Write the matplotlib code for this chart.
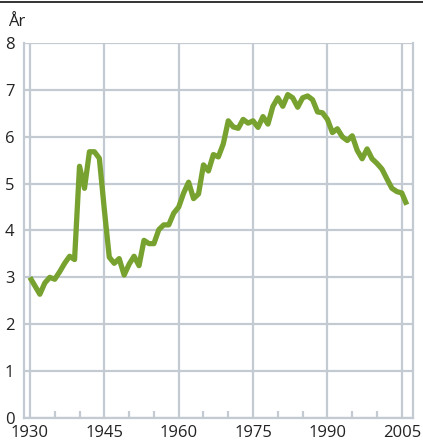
import matplotlib
matplotlib.use('Agg')
import matplotlib.pyplot as plt
import numpy as np

years = list(range(1930, 2007))
values = [3.00, 2.82, 2.64, 2.88, 3.00, 2.96, 3.12, 3.30, 3.45, 3.38,
          5.37, 4.90, 5.68, 5.68, 5.54, 4.45, 3.43, 3.30, 3.40, 3.05,
          3.28, 3.45, 3.25, 3.79, 3.72, 3.72, 4.02, 4.12, 4.12, 4.37,
          4.50, 4.80, 5.03, 4.68, 4.78, 5.40, 5.27, 5.62, 5.57, 5.85,
          6.34, 6.21, 6.18, 6.37, 6.29, 6.34, 6.20, 6.43, 6.27, 6.65,
          6.83, 6.65, 6.90, 6.83, 6.63, 6.83, 6.87, 6.79, 6.53, 6.51,
          6.37, 6.09, 6.17, 6.00, 5.92, 6.02, 5.71, 5.53, 5.74, 5.53,
          5.43, 5.31, 5.10, 4.90, 4.83, 4.80, 4.55]
x_ticks = [1930, 1945, 1960, 1975, 1990, 2005]
x_minor = [1935, 1940, 1950, 1955, 1965, 1970, 1980, 1985, 1995, 2000]
y_ticks = list(range(0, 9))

grey = '#c3cad2'
green = '#78a22f'
plt.rcParams['font.family'] = ['Open Sans', 'DejaVu Sans']

fig = plt.figure(figsize=(4.23, 4.47), dpi=100)
ax = fig.add_axes([0.0567, 0.0649, 0.9190, 0.8389])

ax.plot(years, values, color=green, lw=3.8, solid_joinstyle='round', solid_capstyle='butt', zorder=3)

ax.set_xlim(1928.8, 2007.2)
ax.set_ylim(0, 8)
ax.set_xticks(x_ticks)
ax.set_xticks(x_minor, minor=True)
ax.set_yticks(y_ticks)
ax.grid(True, which='major', color=grey, lw=1.6)
ax.tick_params(axis='both', which='major', length=0, labelsize=12, colors='#222222')
ax.tick_params(axis='x', which='major', pad=5)
ax.tick_params(axis='y', which='major', pad=7)
ax.tick_params(axis='x', which='minor', direction='in', length=5, width=1.6, color=grey)
for s in ax.spines.values():
    s.set_color(grey)
    s.set_linewidth(1.6)
ax.spines['top'].set_visible(False)

fig.text(0.019, 0.951, 'År', fontsize=12, color='#222222', va='center', ha='left')
fig.add_artist(plt.Line2D([0, 1], [0.996, 0.996], color='#111111', lw=1.2, transform=fig.transFigure))

fig.savefig('out.png', dpi=100)
